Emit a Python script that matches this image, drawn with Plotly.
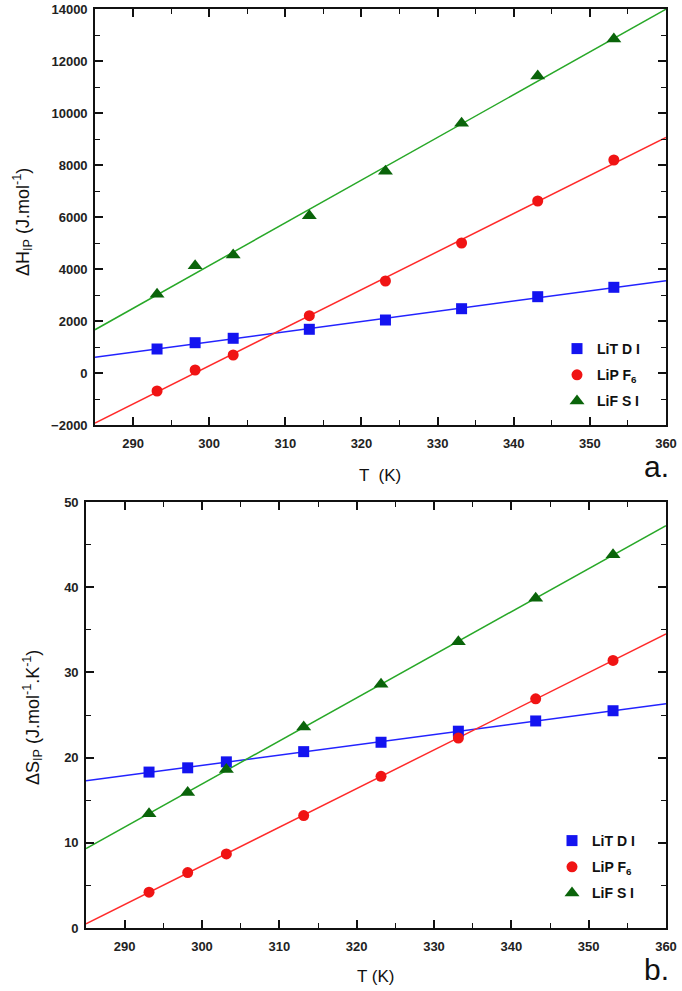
import numpy as np
import plotly.graph_objects as go

# ---------------- data ----------------
T = [293.15, 298.15, 303.15, 313.15, 323.15, 333.15, 343.15, 353.15]

dH_LiTDI = [923, 1165, 1335, 1681, 2038, 2473, 2935, 3296]
dH_LiPF6 = [-692, 115, 692, 2204, 3538, 5000, 6615, 8192]
dH_LiFSI = [3027, 4127, 4538, 6050, 7758, 9604, 11423, 12846]

dS_LiTDI = [18.3, 18.8, 19.5, 20.7, 21.8, 23.1, 24.3, 25.5]
dS_LiPF6 = [4.2, 6.5, 8.7, 13.2, 17.8, 22.3, 26.9, 31.4]
dS_LiFSI = [13.4, 15.9, 18.6, 23.6, 28.6, 33.6, 38.7, 43.8]

T_fit = [285, 360]
legend_text = ["LiT D I", "LiP F<sub>6</sub>", "LiF S I"]

# ---------------- style ----------------
W, H = 682, 991
FONT = "Liberation Sans, Arial, sans-serif"
mk_col = ["#1414f0", "#f01414", "#0a640a"]
ln_col = ["#2323ff", "#ff2a2a", "#28a828"]
symbols = ["square", "circle", "triangle-up"]
sizes = [11, 11, 13]

fig = go.Figure()

def add_panel(vals, xa, ya, leg):
    for i, v in enumerate(vals):
        coef = np.polyfit(T, v, 1)
        yfit = np.polyval(coef, T_fit)
        fig.add_trace(go.Scatter(x=T_fit, y=yfit, mode="lines",
                                 line=dict(color=ln_col[i], width=1.5),
                                 showlegend=False, xaxis=xa, yaxis=ya,
                                 hoverinfo="skip"))
    for i, v in enumerate(vals):
        fig.add_trace(go.Scatter(x=T, y=v, mode="markers", name=legend_text[i],
                                 marker=dict(symbol=symbols[i], size=sizes[i],
                                             color=mk_col[i], line=dict(width=0)),
                                 xaxis=xa, yaxis=ya, legend=leg,
                                 legendgroup=leg + str(i)))

add_panel([dH_LiTDI, dH_LiPF6, dH_LiFSI], "x", "y", "legend")
add_panel([dS_LiTDI, dS_LiPF6, dS_LiFSI], "x2", "y2", "legend2")

def px(x):
    return x / W

def py(y):
    return 1 - y / H

tick_font = dict(family=FONT, size=13, color="#222", weight="bold")
axis_common = dict(showline=True, linecolor="#111", linewidth=1.6, mirror="ticks",
                   ticks="inside", ticklen=8, tickwidth=1.6, tickcolor="#111",
                   showgrid=False, zeroline=False, automargin=False,
                   tickfont=tick_font)
minor_x = dict(dtick=5, tick0=285, ticks="inside", ticklen=5, tickwidth=1.4, tickcolor="#111")

fig.update_layout(
    width=W, height=H, margin=dict(l=0, r=0, t=0, b=0),
    paper_bgcolor="white", plot_bgcolor="white",
    xaxis=dict(domain=[px(95), px(666)], range=[285, 360], dtick=10, tick0=290,
               minor=minor_x, anchor="y", ticklabelstandoff=6, **axis_common),
    yaxis=dict(domain=[py(425), py(9)], range=[-2000, 14000], dtick=2000, tickformat="d",
               minor=dict(dtick=1000, ticks="inside", ticklen=5, tickwidth=1.4, tickcolor="#111"),
               anchor="x", ticklabelstandoff=3, **axis_common),
    xaxis2=dict(domain=[px(86), px(666)], range=[285, 360], dtick=10, tick0=290,
                minor=minor_x, anchor="y2", ticklabelstandoff=6, **axis_common),
    yaxis2=dict(domain=[py(928), py(502)], range=[0, 50], dtick=10, tickformat="d",
                minor=dict(dtick=5, ticks="inside", ticklen=5, tickwidth=1.4, tickcolor="#111"),
                anchor="x2", ticklabelstandoff=3, **axis_common),
    legend=dict(x=px(557), y=py(333), xanchor="left", yanchor="top",
                bgcolor="rgba(0,0,0,0)",
                font=dict(family=FONT, size=14, color="#111", weight="bold"),
                tracegroupgap=5, traceorder="grouped"),
    legend2=dict(x=px(552), y=py(825), xanchor="left", yanchor="top",
                 bgcolor="rgba(0,0,0,0)",
                 font=dict(family=FONT, size=14, color="#111", weight="bold"),
                 tracegroupgap=5, traceorder="grouped"),
    showlegend=True,
)

ann_font = dict(family=FONT, size=18, color="#111")
fig.add_annotation(text="ΔH<sub>IP</sub> (J.mol<sup>-1</sup>)", x=px(22), y=py(222),
                   xref="paper", yref="paper", textangle=-90, showarrow=False,
                   font=ann_font, xanchor="center", yanchor="middle")
fig.add_annotation(text="ΔS<sub>IP</sub> (J.mol<sup>-1</sup>.K<sup>-1</sup>)", x=px(32), y=py(718),
                   xref="paper", yref="paper", textangle=-90, showarrow=False,
                   font=ann_font, xanchor="center", yanchor="middle")
fig.add_annotation(text="T  (K)", x=px(380), y=py(475), xref="paper", yref="paper",
                   showarrow=False, font=dict(family=FONT, size=17, color="#111"),
                   xanchor="center", yanchor="middle")
fig.add_annotation(text="T (K)", x=px(376), y=py(976), xref="paper", yref="paper",
                   showarrow=False, font=dict(family=FONT, size=17, color="#111"),
                   xanchor="center", yanchor="middle")
fig.add_annotation(text="a.", x=px(656), y=py(466), xref="paper", yref="paper",
                   showarrow=False, font=dict(family=FONT, size=30, color="#111"),
                   xanchor="center", yanchor="middle")
fig.add_annotation(text="b.", x=px(656), y=py(969), xref="paper", yref="paper",
                   showarrow=False, font=dict(family=FONT, size=30, color="#111"),
                   xanchor="center", yanchor="middle")

fig.write_html("out.html", config={"displayModeBar": False},
               post_script="document.body.style.margin='0';document.body.style.overflow='hidden';")
